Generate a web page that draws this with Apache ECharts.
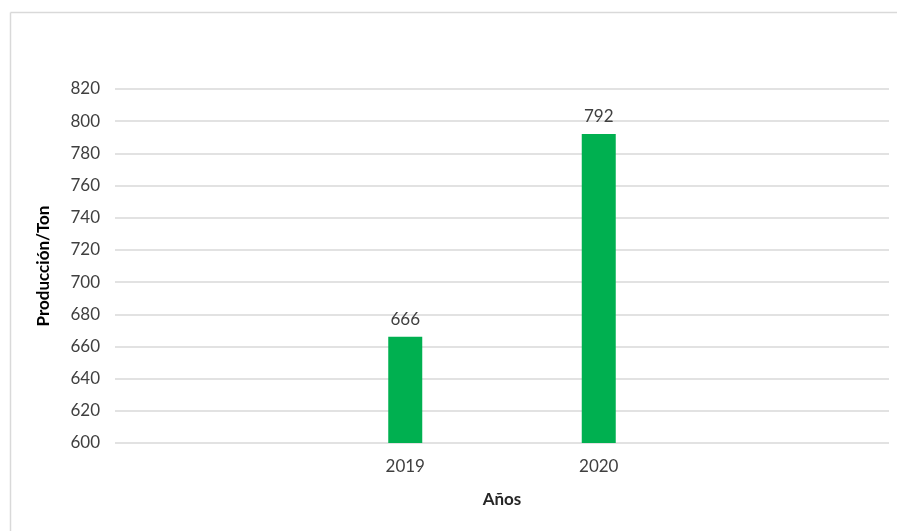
<!DOCTYPE html>
<html>
<head>
<meta charset="utf-8">
<script src="https://cdn.jsdelivr.net/npm/echarts@6/dist/echarts.min.js"></script>
<style>html,body{margin:0;padding:0;background:#fff}#c{width:897px;height:531px}</style>
</head>
<body>
<div id="c"></div>
<script>
const categories = ["", "2019", "2020", ""];
const production = [null, 666, 792, null];
const yMin = 600, yMax = 820, yStep = 20;
const yTitle = "Producción/Ton";
const xTitle = "Años";

const chart = echarts.init(document.getElementById('c'));
const font = 'Lato, "Open Sans", sans-serif';
chart.setOption({
  animation: false,
  backgroundColor: '#fff',
  graphic: [
    {type: 'line', shape: {x1: 10.5, y1: 12.5, x2: 897, y2: 12.5}, style: {stroke: '#d9d9d9', lineWidth: 1.5}},
    {type: 'line', shape: {x1: 10.5, y1: 12.5, x2: 10.5, y2: 531}, style: {stroke: '#d9d9d9', lineWidth: 1.5}}
  ],
  grid: {left: 115, right: 8, top: 89, bottom: 88, containLabel: false},
  xAxis: {
    type: 'category',
    data: categories,
    axisLine: {show: false},
    axisTick: {show: false},
    axisLabel: {color: '#404040', fontSize: 17, fontFamily: font, margin: 15},
    name: xTitle,
    nameLocation: 'middle',
    nameGap: 48,
    nameTextStyle: {color: '#262626', fontSize: 17, fontWeight: 'bold', fontFamily: font}
  },
  yAxis: {
    type: 'value',
    min: yMin, max: yMax, interval: yStep,
    axisLine: {show: false},
    axisTick: {show: false},
    axisLabel: {color: '#404040', fontSize: 17, fontFamily: font, margin: 15},
    splitLine: {lineStyle: {color: '#d9d9d9', width: 1.5}},
    name: yTitle,
    nameLocation: 'middle',
    nameGap: 63,
    nameTextStyle: {color: '#000', fontSize: 17, fontWeight: 'bold', fontFamily: font}
  },
  series: [{
    type: 'bar',
    data: production,
    barWidth: 34,
    itemStyle: {color: '#00B050'},
    label: {show: true, position: 'top', distance: 9, color: '#404040', fontSize: 17, fontFamily: font}
  }]
});
</script>
</body>
</html>
